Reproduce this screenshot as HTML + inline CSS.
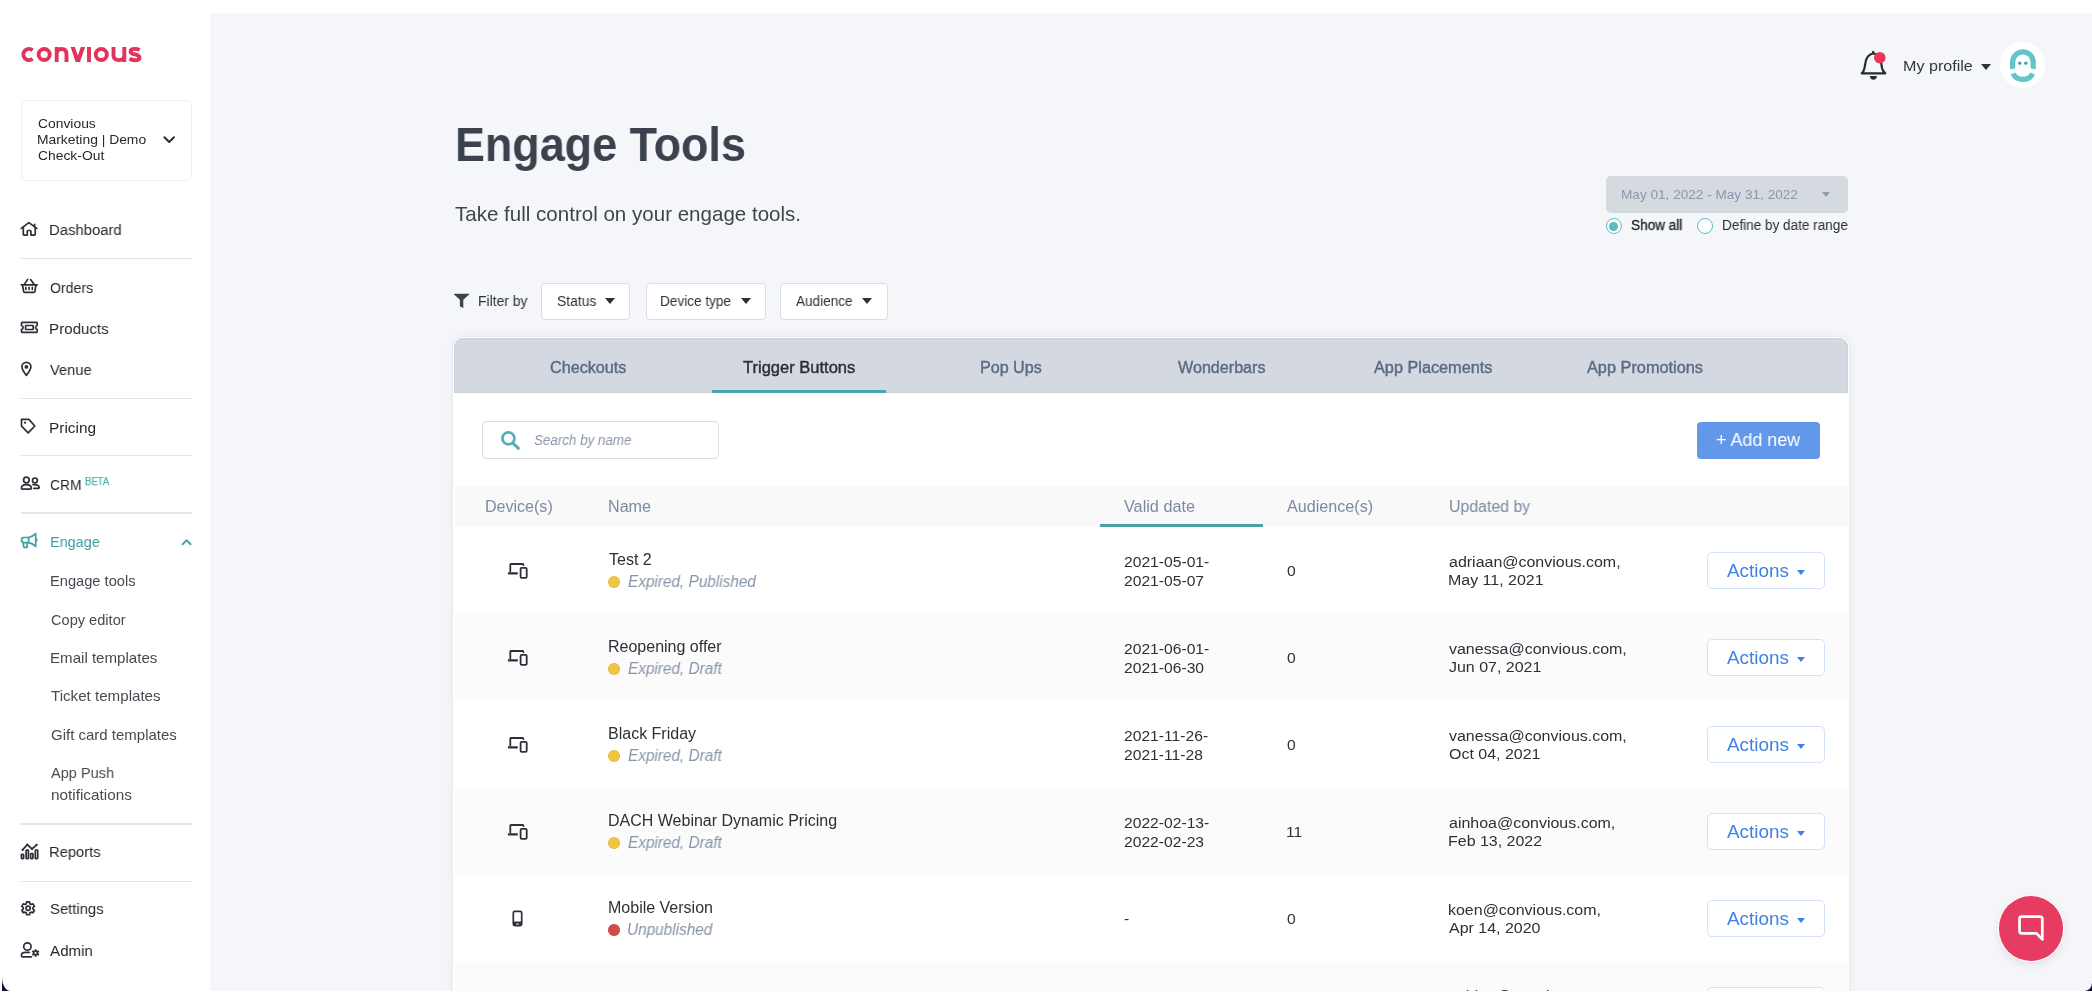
<!DOCTYPE html>
<html><head><meta charset="utf-8"><title>Engage Tools</title>
<style>
*{box-sizing:border-box}
html,body{margin:0;padding:0}
body{width:2092px;height:996px;overflow:hidden;position:relative;background:#fff;font-family:"Liberation Sans",sans-serif;}
.a{position:absolute}
.t{position:absolute;white-space:nowrap;transform-origin:0 0;will-change:transform;}
.tri{width:0;height:0}
</style></head><body>
<div class="a" style="left:210px;top:13px;width:1882px;height:978px;background:#f5f6fa;"></div>
<!-- logo -->
<svg class="a" style="left:0;top:0" width="200" height="90" viewBox="0 0 200 90"><g fill="none" stroke="#e2335a" stroke-width="3.9">
<path d="M32.6 50.2 A5.6 5.6 0 1 0 32.6 58.8"/>
<circle cx="44.2" cy="54.5" r="5.55"/>
<path d="M56.7 62.1 V47 M56.7 54.2 Q56.7 49 61.6 49 Q66.5 49 66.5 54.2 V62.1"/>
<path d="M70.6 47 H74.9 L77.85 55.6 L80.8 47 H85.1 L80 62.1 H75.7 Z" fill="#e2335a" stroke="none"/>
<path d="M89 47 V62.1"/>
<circle cx="101.3" cy="54.5" r="5.55"/>
<path d="M113.5 47 V55.3 Q113.5 60.1 118.9 60.1 Q124.3 60.1 124.3 55.3 M124.3 47 V62.1"/>
<path d="M139.6 49.9 Q137.6 48.9 135 48.9 Q130.6 48.9 130.6 51.4 Q130.6 53.5 135 54.4 Q139.5 55.3 139.5 57.7 Q139.5 60.2 134.9 60.2 Q131.8 60.2 129.6 58.7"/>
</g></svg>
<!-- venue box -->
<div class="a" style="left:21px;top:99.5px;width:170.6px;height:81px;border:1px solid #eef0f3;border-radius:6px;background:#fff;"></div>
<!-- dividers -->
<div class="a" style="left:21px;top:257.75px;width:170.5px;height:1.5px;background:#e1e5eb;"></div><div class="a" style="left:21px;top:397.75px;width:170.5px;height:1.5px;background:#e1e5eb;"></div><div class="a" style="left:21px;top:454.85px;width:170.5px;height:1.5px;background:#e1e5eb;"></div><div class="a" style="left:21px;top:512.25px;width:170.5px;height:1.5px;background:#e1e5eb;"></div><div class="a" style="left:21px;top:823.15px;width:170.5px;height:1.5px;background:#e1e5eb;"></div><div class="a" style="left:21px;top:880.65px;width:170.5px;height:1.5px;background:#e1e5eb;"></div>
<!-- date dropdown -->
<div class="a" style="left:1606px;top:175.6px;width:242px;height:37.1px;border-radius:5px;background:#d5d9e0;"></div>
<!-- radios -->
<div class="a" style="left:1605.5px;top:218px;width:16.2px;height:16.2px;border-radius:50%;border:1.2px solid #5bbfc3;background:#fff;"></div>
<div class="a" style="left:1609.1px;top:221.6px;width:9px;height:9px;border-radius:50%;background:#5bbcc0;"></div>
<div class="a" style="left:1696.5px;top:218px;width:16.2px;height:16.2px;border-radius:50%;border:1.2px solid #5bbfc3;background:#fff;"></div>
<!-- filter buttons -->
<div class="a" style="left:540.7px;top:282.5px;width:89.7px;height:37px;border:1px solid #d9dde4;border-radius:4px;background:#fff;"></div>
<div class="a" style="left:645.6px;top:282.5px;width:120.9px;height:37px;border:1px solid #d9dde4;border-radius:4px;background:#fff;"></div>
<div class="a" style="left:780.4px;top:282.5px;width:107.7px;height:37px;border:1px solid #d9dde4;border-radius:4px;background:#fff;"></div>
<!-- card -->
<div class="a" style="left:453.2px;top:337px;width:1395.8px;height:660px;background:#fff;border-radius:10px 10px 0 0;box-shadow:0 0 10px rgba(40,50,80,0.07), 0 0 3px rgba(40,50,80,0.05);"></div>
<div class="a" style="left:454.4px;top:338.3px;width:1393.5px;height:55.2px;background:#d4d8e0;border-radius:9px 9px 0 0;border:1px solid #cdd2da;border-bottom:1.5px solid #ccd1d9;"></div>
<div class="a" style="left:712.2px;top:390.1px;width:174.2px;height:3.4px;background:#48a6ab;"></div>
<!-- search -->
<div class="a" style="left:482.4px;top:421px;width:236.6px;height:38px;border:1px solid #d9dde3;border-radius:4px;background:#fff;"></div>
<!-- add new -->
<div class="a" style="left:1697.2px;top:421.6px;width:123px;height:37.4px;border-radius:4px;background:#6298ea;"></div>
<!-- table header -->
<div class="a" style="left:454.5px;top:486.8px;width:1393.5px;height:40.4px;background:#f9f9fa;"></div>
<div class="a" style="left:1100.4px;top:524.2px;width:162.5px;height:3px;background:#4aa2a8;"></div>
<div class="a" style="left:454.5px;top:527px;width:1393.5px;height:87px;background:#ffffff;"></div><div class="a" style="left:608.3000000000001px;top:576.0px;width:11.6px;height:11.6px;border-radius:50%;background:#f2c443;box-shadow:inset 0 0 0 0.6px rgba(0,0,0,0.08);"></div><div class="a" style="left:1707.3px;top:552.2px;width:117.4px;height:36.9px;box-sizing:border-box;border:1.4px solid #d3e1fa;border-radius:5px;background:#fff;"></div><div class="a tri" style="left:1796.8px;top:569.6px;border-left:4.8px solid transparent;border-right:4.8px solid transparent;border-top:5.0px solid #3e82e6;"></div><div class="a" style="left:454.5px;top:614px;width:1393.5px;height:87px;background:#fbfbfc;"></div><div class="a" style="left:608.3000000000001px;top:663.0px;width:11.6px;height:11.6px;border-radius:50%;background:#f2c443;box-shadow:inset 0 0 0 0.6px rgba(0,0,0,0.08);"></div><div class="a" style="left:1707.3px;top:639.2px;width:117.4px;height:36.9px;box-sizing:border-box;border:1.4px solid #d3e1fa;border-radius:5px;background:#fff;"></div><div class="a tri" style="left:1796.8px;top:656.6px;border-left:4.8px solid transparent;border-right:4.8px solid transparent;border-top:5.0px solid #3e82e6;"></div><div class="a" style="left:454.5px;top:701px;width:1393.5px;height:87px;background:#ffffff;"></div><div class="a" style="left:608.3000000000001px;top:750.0px;width:11.6px;height:11.6px;border-radius:50%;background:#f2c443;box-shadow:inset 0 0 0 0.6px rgba(0,0,0,0.08);"></div><div class="a" style="left:1707.3px;top:726.2px;width:117.4px;height:36.9px;box-sizing:border-box;border:1.4px solid #d3e1fa;border-radius:5px;background:#fff;"></div><div class="a tri" style="left:1796.8px;top:743.6px;border-left:4.8px solid transparent;border-right:4.8px solid transparent;border-top:5.0px solid #3e82e6;"></div><div class="a" style="left:454.5px;top:788px;width:1393.5px;height:87px;background:#fbfbfc;"></div><div class="a" style="left:608.3000000000001px;top:837.0px;width:11.6px;height:11.6px;border-radius:50%;background:#f2c443;box-shadow:inset 0 0 0 0.6px rgba(0,0,0,0.08);"></div><div class="a" style="left:1707.3px;top:813.2px;width:117.4px;height:36.9px;box-sizing:border-box;border:1.4px solid #d3e1fa;border-radius:5px;background:#fff;"></div><div class="a tri" style="left:1796.8px;top:830.6px;border-left:4.8px solid transparent;border-right:4.8px solid transparent;border-top:5.0px solid #3e82e6;"></div><div class="a" style="left:454.5px;top:875px;width:1393.5px;height:87px;background:#ffffff;"></div><div class="a" style="left:608.3000000000001px;top:924.0px;width:11.6px;height:11.6px;border-radius:50%;background:#cf4c48;box-shadow:inset 0 0 0 0.6px rgba(0,0,0,0.08);"></div><div class="a" style="left:1707.3px;top:900.2px;width:117.4px;height:36.9px;box-sizing:border-box;border:1.4px solid #d3e1fa;border-radius:5px;background:#fff;"></div><div class="a tri" style="left:1796.8px;top:917.6px;border-left:4.8px solid transparent;border-right:4.8px solid transparent;border-top:5.0px solid #3e82e6;"></div><div class="a" style="left:454.5px;top:962px;width:1393.5px;height:87px;background:#fbfbfc;"></div><div class="a" style="left:1707.3px;top:987.2px;width:117.4px;height:36.9px;box-sizing:border-box;border:1.4px solid #d3e1fa;border-radius:5px;background:#fff;"></div><div class="a tri" style="left:1796.8px;top:1004.6px;border-left:4.8px solid transparent;border-right:4.8px solid transparent;border-top:5.0px solid #3e82e6;"></div>
<svg class="a" style="left:18px;top:218px;" width="24" height="24" viewBox="0 0 24 24" fill="none"><g stroke="#2b3038" stroke-width="1.7" stroke-linecap="round" stroke-linejoin="round"><path d="M3.3 10.4 L10.8 4.6 L18.8 10.4"/><path d="M16.6 8.6 V6.4"/><path d="M5.3 9.6 V16.3 Q5.3 17.1 6.1 17.1 H9.3 V13.3 Q9.3 12.5 10.1 12.5 H12.1 Q12.9 12.5 12.9 13.3 V17.1 H16.4 Q17.2 17.1 17.2 16.3 V9.6"/></g></svg><svg class="a" style="left:18px;top:274px;" width="24" height="24" viewBox="0 0 24 24" fill="none"><g stroke="#2b3038" stroke-width="1.7" stroke-linecap="round" stroke-linejoin="round"><path d="M3.3 10.8 H19.2"/><path d="M4.6 11 L5.6 17.6 Q5.8 18.4 6.6 18.4 H15.9 Q16.7 18.4 16.9 17.6 L17.9 11"/><path d="M6.4 10.4 L9.6 5.4"/><path d="M12.6 5.6 L16.2 10.4"/><path d="M7.9 13.2 V15.6 M11.1 13.2 V15.6 M14.3 13.2 V15.6" stroke-width="1.6"/></g></svg><svg class="a" style="left:18px;top:316px;" width="24" height="24" viewBox="0 0 24 24" fill="none"><g stroke="#2b3038" stroke-width="1.7" stroke-linecap="round" stroke-linejoin="round"><path d="M4.2 6.4 H18.5 Q19.2 6.4 19.2 7.1 V9.4 Q17.5 10.2 17.5 11.4 Q17.5 12.6 19.2 13.4 V15.6 Q19.2 16.3 18.5 16.3 H4.2 Q3.5 16.3 3.5 15.6 V13.4 Q5.2 12.6 5.2 11.4 Q5.2 10.2 3.5 9.4 V7.1 Q3.5 6.4 4.2 6.4 Z"/><rect x="7.6" y="9.5" width="7.6" height="4" rx="0.5"/></g></svg><svg class="a" style="left:18px;top:358px;" width="24" height="24" viewBox="0 0 24 24" fill="none"><g stroke="#2b3038" stroke-width="1.7" stroke-linecap="round" stroke-linejoin="round"><path d="M8.4 17.4 C6.2 14.6 3.9 11.6 3.9 8.8 A4.5 4.5 0 0 1 12.9 8.8 C12.9 11.6 10.6 14.6 8.4 17.4 Z"/></g><circle cx="8.4" cy="8.9" r="1.9" fill="#2b3038"/></svg><svg class="a" style="left:18px;top:414px;" width="24" height="24" viewBox="0 0 24 24" fill="none"><g stroke="#2b3038" stroke-width="1.7" stroke-linecap="round" stroke-linejoin="round"><path d="M3.5 5.4 H10.9 L16.8 12 L10.2 18.8 L3.5 12.2 Z"/></g><circle cx="7.0" cy="8.7" r="1.1" fill="#2b3038"/></svg><svg class="a" style="left:18px;top:472px;" width="24" height="24" viewBox="0 0 24 24" fill="none"><g stroke="#2b3038" stroke-width="1.7" stroke-linecap="round" stroke-linejoin="round"><circle cx="8.4" cy="8.0" r="2.8"/><path d="M3.4 16.3 Q3.4 12.6 8.4 12.6 Q13.3 12.6 13.3 16.3 Q13.3 17.2 12.4 17.2 H4.3 Q3.4 17.2 3.4 16.3 Z"/><circle cx="16.9" cy="8.4" r="2.4"/><path d="M15 12.7 Q21.2 12.3 21.2 15.6 Q21.2 16.3 20.5 16.3 H15.8"/></g></svg><svg class="a" style="left:18px;top:529px;" width="24" height="24" viewBox="0 0 24 24" fill="none"><g stroke="#3d9ea3" stroke-width="1.7" stroke-linecap="round" stroke-linejoin="round"><path d="M10.6 8.5 H5.9 Q3.5 8.5 3.5 11.1 Q3.5 13.7 5.9 13.7 H10.6 Z"/><path d="M10.6 8.5 Q14.6 7.8 17.7 4.7 V17.4 Q14.6 14.4 10.6 13.7"/><path d="M5.4 13.9 L5.6 17.6 Q5.7 18.3 6.5 18.3 H8.7 Q9.4 18.3 9.3 17.6 L8.8 14"/><path d="M18.2 10.3 L18.8 11.1 L18.2 11.9"/></g></svg><svg class="a" style="left:18px;top:839px;" width="24" height="24" viewBox="0 0 24 24" fill="none"><g stroke="#2b3038" stroke-width="1.7" stroke-linecap="round" stroke-linejoin="round"><path d="M4.6 10.8 L9.3 5.7 L14 10 L18.6 5.8"/><rect x="3.4" y="15.3" width="2.2" height="4.3" rx="0.6"/><rect x="8.1" y="11.2" width="2.3" height="8.4" rx="0.6"/><rect x="12.6" y="14.5" width="2.3" height="5.1" rx="0.6"/><rect x="17.3" y="11.0" width="2.4" height="8.6" rx="0.6"/></g><g fill="#2b3038"><circle cx="4.6" cy="10.8" r="1.1"/><circle cx="9.3" cy="5.7" r="1.1"/><circle cx="14" cy="10" r="1.1"/><circle cx="18.6" cy="5.8" r="1.1"/></g></svg><svg class="a" style="left:18px;top:896px;" width="24" height="24" viewBox="0 0 24 24" fill="none"><g stroke="#2b3038" stroke-width="1.7" stroke-linecap="round" stroke-linejoin="round"><path d="M8.30 7.74 L8.66 5.86 L11.54 5.86 L11.90 7.74 L13.14 8.46 L14.96 7.83 L16.40 10.33 L14.95 11.58 L14.95 13.02 L16.40 14.27 L14.96 16.77 L13.14 16.14 L11.90 16.86 L11.54 18.74 L8.66 18.74 L8.30 16.86 L7.06 16.14 L5.24 16.77 L3.80 14.27 L5.25 13.02 L5.25 11.58 L3.80 10.33 L5.24 7.83 L7.06 8.46 Z"/><circle cx="10.1" cy="12.3" r="2.1"/></g></svg><svg class="a" style="left:18px;top:938px;" width="24" height="24" viewBox="0 0 24 24" fill="none"><g stroke="#2b3038" stroke-width="1.7" stroke-linecap="round" stroke-linejoin="round"><circle cx="9.4" cy="8.5" r="3.7"/><path d="M11.3 14.3 H7.3 Q3.4 14.3 3.4 17.6 Q3.4 18.8 4.4 18.8 H13.4"/></g><path fill-rule="evenodd" fill="#2b3038" d="M16.57 12.51 L16.75 11.19 L18.45 11.19 L18.63 12.51 L19.24 12.86 L20.47 12.36 L21.32 13.83 L20.28 14.65 L20.28 15.35 L21.32 16.17 L20.47 17.64 L19.24 17.14 L18.63 17.49 L18.45 18.81 L16.75 18.81 L16.57 17.49 L15.96 17.14 L14.73 17.64 L13.88 16.17 L14.92 15.35 L14.92 14.65 L13.88 13.83 L14.73 12.36 L15.96 12.86 Z M17.6 14.0 A1.0 1.0 0 1 0 17.6 16.0 A1.0 1.0 0 1 0 17.6 14.0 Z"/></svg><svg class="a" style="left:160px;top:132px;" width="18" height="14" viewBox="0 0 18 14" fill="none"><path d="M4.4 5.3 L9.2 10.0 L14.0 5.3" stroke="#2b2f36" stroke-width="2" fill="none" stroke-linecap="round" stroke-linejoin="round"/></svg><svg class="a" style="left:178px;top:534px;" width="18" height="14" viewBox="0 0 18 14" fill="none"><path d="M4.6 10.2 L8.6 6.2 L12.6 10.2" stroke="#4aa8ad" stroke-width="2" fill="none" stroke-linecap="round" stroke-linejoin="round"/></svg><svg class="a" style="left:1856px;top:46px;" width="36" height="40" viewBox="0 0 36 40" fill="none"><g stroke="#262b33" stroke-width="2.2" stroke-linecap="round" stroke-linejoin="round"><path d="M5.8 27.4 Q7.8 25.5 8.5 22 L9.4 17 Q10.4 9.2 17.2 7.3 Q24.4 9.2 25.2 17 L26 22 Q26.8 25.5 29.3 27.4 Z"/><path d="M17.2 7.3 V5.9"/></g><path d="M13.9 30.0 H20.9 Q20.6 33.8 17.4 33.8 Q14.2 33.8 13.9 30.0 Z" fill="#262b33"/><circle cx="23.8" cy="11.7" r="5.8" fill="#e8375b"/></svg><div class="a tri" style="left:1980.7px;top:63.8px;border-left:5.6px solid transparent;border-right:5.6px solid transparent;border-top:6.0px solid #2d3239;"></div><div class="a" style="left:1999.8px;top:42.4px;width:45.6px;height:45.6px;border-radius:50%;background:#fff;"></div><svg class="a" style="left:2000px;top:42px;" width="46" height="46" viewBox="0 0 46 46" fill="none"><g stroke="#63c5c7" stroke-width="5.2" fill="none"><path d="M12.6 27.5 V20.2 A10.3 10.3 0 0 1 33.2 20.2 V27.5"/><path d="M13.2 31.4 A10.3 9.0 0 0 0 32.6 31.4"/></g><path d="M9.5 27.5 L16 26.2 L16 29 Z M36.3 27.5 L29.8 26.2 L29.8 29 Z" fill="#fff"/><circle cx="19.7" cy="21.2" r="1.6" fill="#3e9ea1"/><circle cx="25.8" cy="21.2" r="1.6" fill="#3e9ea1"/></svg><div class="a tri" style="left:1822.3px;top:192.2px;border-left:4.9px solid transparent;border-right:4.9px solid transparent;border-top:5.6px solid #8f9bb0;"></div><svg class="a" style="left:450px;top:288px;" width="24" height="24" viewBox="0 0 24 24" fill="none"><path d="M4.3 5.8 H19.2 Q19.6 5.8 19.3 6.3 L13.3 11.7 V19.9 L9.9 18.2 V11.7 L3.9 6.3 Q3.6 5.8 4.3 5.8 Z" fill="#3b424d"/></svg><div class="a tri" style="left:605.4px;top:298.0px;border-left:5.4px solid transparent;border-right:5.4px solid transparent;border-top:6.6px solid #2d3239;"></div><div class="a tri" style="left:740.6px;top:298.0px;border-left:5.4px solid transparent;border-right:5.4px solid transparent;border-top:6.6px solid #2d3239;"></div><div class="a tri" style="left:862.0px;top:298.0px;border-left:5.4px solid transparent;border-right:5.4px solid transparent;border-top:6.6px solid #2d3239;"></div><svg class="a" style="left:497px;top:428px;" width="26" height="26" viewBox="0 0 26 26" fill="none"><g stroke="#52afb5" stroke-width="2.7" stroke-linecap="round"><circle cx="11.4" cy="10.4" r="6.0"/><path d="M16.2 15.3 L21.4 20.3" stroke-width="3.0"/></g></svg>
<svg class="a" style="left:504px;top:558px;" width="28" height="24" viewBox="0 0 28 24" fill="none"><g stroke="#2b3038" stroke-width="1.8" stroke-linejoin="round" stroke-linecap="round"><path d="M6.3 13.6 V6.6 Q6.3 6.0 6.9 6.0 H18.7 Q19.3 6.0 19.5 7.2"/><rect x="16.6" y="9.9" width="6.1" height="10.0" rx="1.1"/></g><path d="M3.9 14.2 H13.8 V16.4 H4.6 Q3.9 16.4 3.9 15.7 Z" fill="#2b3038"/></svg><svg class="a" style="left:504px;top:645px;" width="28" height="24" viewBox="0 0 28 24" fill="none"><g stroke="#2b3038" stroke-width="1.8" stroke-linejoin="round" stroke-linecap="round"><path d="M6.3 13.6 V6.6 Q6.3 6.0 6.9 6.0 H18.7 Q19.3 6.0 19.5 7.2"/><rect x="16.6" y="9.9" width="6.1" height="10.0" rx="1.1"/></g><path d="M3.9 14.2 H13.8 V16.4 H4.6 Q3.9 16.4 3.9 15.7 Z" fill="#2b3038"/></svg><svg class="a" style="left:504px;top:732px;" width="28" height="24" viewBox="0 0 28 24" fill="none"><g stroke="#2b3038" stroke-width="1.8" stroke-linejoin="round" stroke-linecap="round"><path d="M6.3 13.6 V6.6 Q6.3 6.0 6.9 6.0 H18.7 Q19.3 6.0 19.5 7.2"/><rect x="16.6" y="9.9" width="6.1" height="10.0" rx="1.1"/></g><path d="M3.9 14.2 H13.8 V16.4 H4.6 Q3.9 16.4 3.9 15.7 Z" fill="#2b3038"/></svg><svg class="a" style="left:504px;top:819px;" width="28" height="24" viewBox="0 0 28 24" fill="none"><g stroke="#2b3038" stroke-width="1.8" stroke-linejoin="round" stroke-linecap="round"><path d="M6.3 13.6 V6.6 Q6.3 6.0 6.9 6.0 H18.7 Q19.3 6.0 19.5 7.2"/><rect x="16.6" y="9.9" width="6.1" height="10.0" rx="1.1"/></g><path d="M3.9 14.2 H13.8 V16.4 H4.6 Q3.9 16.4 3.9 15.7 Z" fill="#2b3038"/></svg><svg class="a" style="left:504px;top:905px;" width="28" height="24" viewBox="0 0 28 24" fill="none"><rect x="9.3" y="6.3" width="8.4" height="14.3" rx="1.5" stroke="#2b3038" stroke-width="1.7"/><path d="M9.3 17.3 H17.7" stroke="#2b3038" stroke-width="1.5"/><rect x="9" y="17.2" width="9" height="3.6" rx="1.2" fill="#2b3038"/><rect x="12" y="18.5" width="3" height="1.1" rx="0.55" fill="#fff"/></svg>
<div class="t" id="t0" style="left:38.40px;top:117.39px;font-size:13.0px;line-height:13.0px;color:#252a31;transform:scaleX(1.0660);">Convious</div>
<div class="t" id="t1" style="left:37.33px;top:133.49px;font-size:13.0px;line-height:13.0px;color:#252a31;transform:scaleX(1.0660);">Marketing | Demo</div>
<div class="t" id="t2" style="left:38.40px;top:149.09px;font-size:13.0px;line-height:13.0px;color:#252a31;transform:scaleX(1.0660);">Check-Out</div>
<div class="t" id="t3" style="left:49.42px;top:222.43px;font-size:15.2px;line-height:15.2px;color:#252a31;transform:scaleX(0.9787);">Dashboard</div>
<div class="t" id="t4" style="left:50.40px;top:279.73px;font-size:15.2px;line-height:15.2px;color:#252a31;transform:scaleX(0.9312);">Orders</div>
<div class="t" id="t5" style="left:49.40px;top:321.43px;font-size:15.2px;line-height:15.2px;color:#252a31;transform:scaleX(0.9959);">Products</div>
<div class="t" id="t6" style="left:50.40px;top:362.43px;font-size:15.2px;line-height:15.2px;color:#252a31;transform:scaleX(0.9641);">Venue</div>
<div class="t" id="t7" style="left:49.38px;top:420.03px;font-size:15.2px;line-height:15.2px;color:#252a31;transform:scaleX(1.0161);">Pricing</div>
<div class="t" id="t8" style="left:50.40px;top:477.33px;font-size:15.2px;line-height:15.2px;color:#252a31;transform:scaleX(0.9105);">CRM</div>
<div class="t" id="t9" style="left:49.43px;top:844.23px;font-size:15.2px;line-height:15.2px;color:#252a31;transform:scaleX(0.9718);">Reports</div>
<div class="t" id="t10" style="left:50.40px;top:901.33px;font-size:15.2px;line-height:15.2px;color:#252a31;transform:scaleX(0.9768);">Settings</div>
<div class="t" id="t11" style="left:50.40px;top:942.83px;font-size:15.2px;line-height:15.2px;color:#252a31;transform:scaleX(0.9953);">Admin</div>
<div class="t" id="t12" style="left:85.42px;top:476.53px;font-size:10.0px;line-height:10.0px;color:#4db2b7;-webkit-text-stroke:0.25px #4db2b7;transform:scaleX(0.9516);">BETA</div>
<div class="t" id="t13" style="left:49.65px;top:534.33px;font-size:15.2px;line-height:15.2px;color:#3a9ca1;transform:scaleX(0.9506);">Engage</div>
<div class="t" id="t14" style="left:49.60px;top:573.64px;font-size:14.6px;line-height:14.6px;color:#464b53;transform:scaleX(1.0036);">Engage tools</div>
<div class="t" id="t15" style="left:50.60px;top:612.94px;font-size:14.6px;line-height:14.6px;color:#464b53;">Copy editor</div>
<div class="t" id="t16" style="left:49.57px;top:650.94px;font-size:14.6px;line-height:14.6px;color:#464b53;transform:scaleX(1.0339);">Email templates</div>
<div class="t" id="t17" style="left:50.60px;top:689.34px;font-size:14.6px;line-height:14.6px;color:#464b53;transform:scaleX(1.0369);">Ticket templates</div>
<div class="t" id="t18" style="left:50.60px;top:727.74px;font-size:14.6px;line-height:14.6px;color:#464b53;transform:scaleX(1.0272);">Gift card templates</div>
<div class="t" id="t19" style="left:50.60px;top:765.84px;font-size:14.6px;line-height:14.6px;color:#464b53;transform:scaleX(0.9958);">App Push</div>
<div class="t" id="t20" style="left:50.60px;top:788.44px;font-size:14.6px;line-height:14.6px;color:#464b53;transform:scaleX(1.0499);">notifications</div>
<div class="t" id="t21" style="left:455.20px;top:121.46px;font-size:48px;line-height:48px;color:#3b424d;font-weight:700;transform:scaleX(0.9349);">Engage Tools</div>
<div class="t" id="t22" style="left:455.00px;top:204.10px;font-size:20.2px;line-height:20.2px;color:#40454d;transform:scaleX(1.0177);">Take full control on your engage tools.</div>
<div class="t" id="t23" style="left:1902.85px;top:58.16px;font-size:15.4px;line-height:15.4px;color:#33383f;transform:scaleX(1.0468);">My profile</div>
<div class="t" id="t24" style="left:1620.97px;top:188.02px;font-size:13.2px;line-height:13.2px;color:#8b97ab;transform:scaleX(1.0311);">May 01, 2022 - May 31, 2022</div>
<div class="t" id="t25" style="left:1631.45px;top:219.22px;font-size:13.8px;line-height:13.8px;color:#22262c;-webkit-text-stroke:0.3px #22262c;transform:scaleX(0.9850);">Show all</div>
<div class="t" id="t26" style="left:1721.92px;top:219.22px;font-size:13.8px;line-height:13.8px;color:#2a2e35;transform:scaleX(0.9826);">Define by date range</div>
<div class="t" id="t27" style="left:477.51px;top:294.15px;font-size:14.0px;line-height:14.0px;color:#2d3239;transform:scaleX(0.9921);">Filter by</div>
<div class="t" id="t28" style="left:556.50px;top:294.15px;font-size:14.0px;line-height:14.0px;color:#2d3239;transform:scaleX(0.9877);">Status</div>
<div class="t" id="t29" style="left:660.03px;top:294.15px;font-size:14.0px;line-height:14.0px;color:#2d3239;transform:scaleX(0.9716);">Device type</div>
<div class="t" id="t30" style="left:796.20px;top:294.15px;font-size:14.0px;line-height:14.0px;color:#2d3239;transform:scaleX(0.9694);">Audience</div>
<div class="t" id="t31" style="left:550.00px;top:360.45px;font-size:16.0px;line-height:16.0px;color:#5b6b80;-webkit-text-stroke:0.4px #5b6b80;transform:scaleX(1.0106);">Checkouts</div>
<div class="t" id="t32" style="left:743.31px;top:360.45px;font-size:16.0px;line-height:16.0px;color:#2a2e35;-webkit-text-stroke:0.4px #2a2e35;transform:scaleX(1.0322);">Trigger Buttons</div>
<div class="t" id="t33" style="left:979.60px;top:360.45px;font-size:16.0px;line-height:16.0px;color:#5b6b80;-webkit-text-stroke:0.4px #5b6b80;transform:scaleX(1.0055);">Pop Ups</div>
<div class="t" id="t34" style="left:1178.40px;top:360.45px;font-size:16.0px;line-height:16.0px;color:#5b6b80;-webkit-text-stroke:0.4px #5b6b80;transform:scaleX(1.0073);">Wonderbars</div>
<div class="t" id="t35" style="left:1374.20px;top:360.45px;font-size:16.0px;line-height:16.0px;color:#5b6b80;-webkit-text-stroke:0.4px #5b6b80;transform:scaleX(1.0162);">App Placements</div>
<div class="t" id="t36" style="left:1587.10px;top:360.45px;font-size:16.0px;line-height:16.0px;color:#5b6b80;-webkit-text-stroke:0.4px #5b6b80;transform:scaleX(1.0189);">App Promotions</div>
<div class="t" id="t37" style="left:533.60px;top:433.18px;font-size:14.2px;line-height:14.2px;color:#8a97ab;font-style:italic;transform:scaleX(0.9428);">Search by name</div>
<div class="t" id="t38" style="left:1715.50px;top:430.89px;font-size:18.2px;line-height:18.2px;color:#ffffff;transform:scaleX(0.9849);">+ Add new</div>
<div class="t" id="t39" style="left:485.40px;top:498.85px;font-size:16.0px;line-height:16.0px;color:#7c8aa0;transform:scaleX(1.0025);">Device(s)</div>
<div class="t" id="t40" style="left:607.69px;top:498.85px;font-size:16.0px;line-height:16.0px;color:#7c8aa0;transform:scaleX(1.0076);">Name</div>
<div class="t" id="t41" style="left:1124.30px;top:498.85px;font-size:16.0px;line-height:16.0px;color:#7c8aa0;transform:scaleX(1.0146);">Valid date</div>
<div class="t" id="t42" style="left:1286.80px;top:498.85px;font-size:16.0px;line-height:16.0px;color:#7c8aa0;transform:scaleX(1.0089);">Audience(s)</div>
<div class="t" id="t43" style="left:1448.61px;top:498.85px;font-size:16.0px;line-height:16.0px;color:#7c8aa0;transform:scaleX(0.9921);">Updated by</div>
<div class="t" id="t44" style="left:608.50px;top:551.95px;font-size:16.0px;line-height:16.0px;color:#2c3037;">Test 2</div>
<div class="t" id="t45" style="left:627.50px;top:573.99px;font-size:15.6px;line-height:15.6px;color:#8794a9;font-style:italic;transform:scaleX(0.9836);">Expired, Published</div>
<div class="t" id="t46" style="left:1124.30px;top:553.73px;font-size:15.2px;line-height:15.2px;color:#2c3037;transform:scaleX(1.0304);">2021-05-01-</div>
<div class="t" id="t47" style="left:1124.30px;top:572.73px;font-size:15.2px;line-height:15.2px;color:#2c3037;transform:scaleX(1.0304);">2021-05-07</div>
<div class="t" id="t48" style="left:1286.80px;top:563.23px;font-size:15.2px;line-height:15.2px;color:#2c3037;transform:scaleX(1.0304);">0</div>
<div class="t" id="t49" style="left:1449.40px;top:553.83px;font-size:15.2px;line-height:15.2px;color:#2c3037;transform:scaleX(1.0517);">adriaan@convious.com,</div>
<div class="t" id="t50" style="left:1448.35px;top:572.43px;font-size:15.2px;line-height:15.2px;color:#2c3037;transform:scaleX(1.0517);">May 11, 2021</div>
<div class="t" id="t51" style="left:1727.30px;top:561.55px;font-size:18.6px;line-height:18.6px;color:#3e82e6;transform:scaleX(1.0152);">Actions</div>
<div class="t" id="t52" style="left:607.50px;top:638.95px;font-size:16.0px;line-height:16.0px;color:#2c3037;">Reopening offer</div>
<div class="t" id="t53" style="left:627.50px;top:660.99px;font-size:15.6px;line-height:15.6px;color:#8794a9;font-style:italic;transform:scaleX(0.9836);">Expired, Draft</div>
<div class="t" id="t54" style="left:1124.30px;top:640.73px;font-size:15.2px;line-height:15.2px;color:#2c3037;transform:scaleX(1.0304);">2021-06-01-</div>
<div class="t" id="t55" style="left:1124.30px;top:659.73px;font-size:15.2px;line-height:15.2px;color:#2c3037;transform:scaleX(1.0304);">2021-06-30</div>
<div class="t" id="t56" style="left:1286.80px;top:650.23px;font-size:15.2px;line-height:15.2px;color:#2c3037;transform:scaleX(1.0304);">0</div>
<div class="t" id="t57" style="left:1449.40px;top:640.83px;font-size:15.2px;line-height:15.2px;color:#2c3037;transform:scaleX(1.0517);">vanessa@convious.com,</div>
<div class="t" id="t58" style="left:1449.40px;top:659.43px;font-size:15.2px;line-height:15.2px;color:#2c3037;transform:scaleX(1.0517);">Jun 07, 2021</div>
<div class="t" id="t59" style="left:1727.30px;top:648.55px;font-size:18.6px;line-height:18.6px;color:#3e82e6;transform:scaleX(1.0152);">Actions</div>
<div class="t" id="t60" style="left:607.50px;top:725.95px;font-size:16.0px;line-height:16.0px;color:#2c3037;">Black Friday</div>
<div class="t" id="t61" style="left:627.50px;top:747.99px;font-size:15.6px;line-height:15.6px;color:#8794a9;font-style:italic;transform:scaleX(0.9836);">Expired, Draft</div>
<div class="t" id="t62" style="left:1124.30px;top:727.73px;font-size:15.2px;line-height:15.2px;color:#2c3037;transform:scaleX(1.0304);">2021-11-26-</div>
<div class="t" id="t63" style="left:1124.30px;top:746.73px;font-size:15.2px;line-height:15.2px;color:#2c3037;transform:scaleX(1.0304);">2021-11-28</div>
<div class="t" id="t64" style="left:1286.80px;top:737.23px;font-size:15.2px;line-height:15.2px;color:#2c3037;transform:scaleX(1.0304);">0</div>
<div class="t" id="t65" style="left:1449.40px;top:727.83px;font-size:15.2px;line-height:15.2px;color:#2c3037;transform:scaleX(1.0517);">vanessa@convious.com,</div>
<div class="t" id="t66" style="left:1449.40px;top:746.43px;font-size:15.2px;line-height:15.2px;color:#2c3037;transform:scaleX(1.0517);">Oct 04, 2021</div>
<div class="t" id="t67" style="left:1727.30px;top:735.55px;font-size:18.6px;line-height:18.6px;color:#3e82e6;transform:scaleX(1.0152);">Actions</div>
<div class="t" id="t68" style="left:607.50px;top:812.95px;font-size:16.0px;line-height:16.0px;color:#2c3037;">DACH Webinar Dynamic Pricing</div>
<div class="t" id="t69" style="left:627.50px;top:834.99px;font-size:15.6px;line-height:15.6px;color:#8794a9;font-style:italic;transform:scaleX(0.9836);">Expired, Draft</div>
<div class="t" id="t70" style="left:1124.30px;top:814.73px;font-size:15.2px;line-height:15.2px;color:#2c3037;transform:scaleX(1.0304);">2022-02-13-</div>
<div class="t" id="t71" style="left:1124.30px;top:833.73px;font-size:15.2px;line-height:15.2px;color:#2c3037;transform:scaleX(1.0304);">2022-02-23</div>
<div class="t" id="t72" style="left:1285.77px;top:824.23px;font-size:15.2px;line-height:15.2px;color:#2c3037;transform:scaleX(1.0304);">11</div>
<div class="t" id="t73" style="left:1449.40px;top:814.83px;font-size:15.2px;line-height:15.2px;color:#2c3037;transform:scaleX(1.0517);">ainhoa@convious.com,</div>
<div class="t" id="t74" style="left:1448.35px;top:833.43px;font-size:15.2px;line-height:15.2px;color:#2c3037;transform:scaleX(1.0517);">Feb 13, 2022</div>
<div class="t" id="t75" style="left:1727.30px;top:822.55px;font-size:18.6px;line-height:18.6px;color:#3e82e6;transform:scaleX(1.0152);">Actions</div>
<div class="t" id="t76" style="left:607.50px;top:899.95px;font-size:16.0px;line-height:16.0px;color:#2c3037;">Mobile Version</div>
<div class="t" id="t77" style="left:626.52px;top:921.99px;font-size:15.6px;line-height:15.6px;color:#8794a9;font-style:italic;transform:scaleX(0.9836);">Unpublished</div>
<div class="t" id="t78" style="left:1124.30px;top:911.23px;font-size:15.2px;line-height:15.2px;color:#2c3037;transform:scaleX(1.0304);">-</div>
<div class="t" id="t79" style="left:1286.80px;top:911.23px;font-size:15.2px;line-height:15.2px;color:#2c3037;transform:scaleX(1.0304);">0</div>
<div class="t" id="t80" style="left:1448.35px;top:901.83px;font-size:15.2px;line-height:15.2px;color:#2c3037;transform:scaleX(1.0517);">koen@convious.com,</div>
<div class="t" id="t81" style="left:1449.40px;top:920.43px;font-size:15.2px;line-height:15.2px;color:#2c3037;transform:scaleX(1.0517);">Apr 14, 2020</div>
<div class="t" id="t82" style="left:1727.30px;top:909.55px;font-size:18.6px;line-height:18.6px;color:#3e82e6;transform:scaleX(1.0152);">Actions</div>
<div class="t" id="t83" style="left:1124.30px;top:998.23px;font-size:15.2px;line-height:15.2px;color:#2c3037;transform:scaleX(1.0304);">-</div>
<div class="t" id="t84" style="left:1286.80px;top:998.23px;font-size:15.2px;line-height:15.2px;color:#2c3037;transform:scaleX(1.0304);">0</div>
<div class="t" id="t85" style="left:1449.40px;top:987.83px;font-size:15.2px;line-height:15.2px;color:#2c3037;transform:scaleX(1.0517);">sabine@convious.com,</div>
<div class="t" id="t86" style="left:1448.35px;top:1007.43px;font-size:15.2px;line-height:15.2px;color:#2c3037;transform:scaleX(1.0517);">May 20, 2022</div>
<div class="t" id="t87" style="left:1727.30px;top:996.55px;font-size:18.6px;line-height:18.6px;color:#3e82e6;transform:scaleX(1.0152);">Actions</div>
<!-- chat -->
<div class="a" style="left:1998.7px;top:896.1px;width:64.6px;height:64.6px;border-radius:50%;background:#e73c61;box-shadow:0 0 0 1px #fff, 0 3px 8px rgba(30,40,70,0.12);"></div>
<svg class="a" style="left:1999px;top:896px;" width="64" height="64" viewBox="0 0 64 64" fill="none"><path d="M22.8 20.7 H41 Q43.3 20.7 43.3 23 V43.4 L37.4 37.3 H22.8 Q20.5 37.3 20.5 35 V23 Q20.5 20.7 22.8 20.7 Z" stroke="#fff" stroke-width="2.7" stroke-linejoin="round" fill="none"/></svg>
<!-- bottom band & corners -->
<div class="a" style="left:0;top:991px;width:2092px;height:5px;background:#fff;"></div>
<svg class="a" style="left:0;top:970px" width="20" height="26" viewBox="0 970 20 26"><path d="M2 977.5 L2 991 L10.5 991 A8.5 13.5 0 0 1 2 977.5 Z" fill="#1a0b33"/></svg>
<svg class="a" style="left:2072px;top:970px" width="20" height="26" viewBox="2072 970 20 26"><path d="M2092 982.8 L2092 991 L2084.8 991 A7.2 8.2 0 0 0 2092 982.8 Z" fill="#1a0b33"/></svg>
</body></html>
